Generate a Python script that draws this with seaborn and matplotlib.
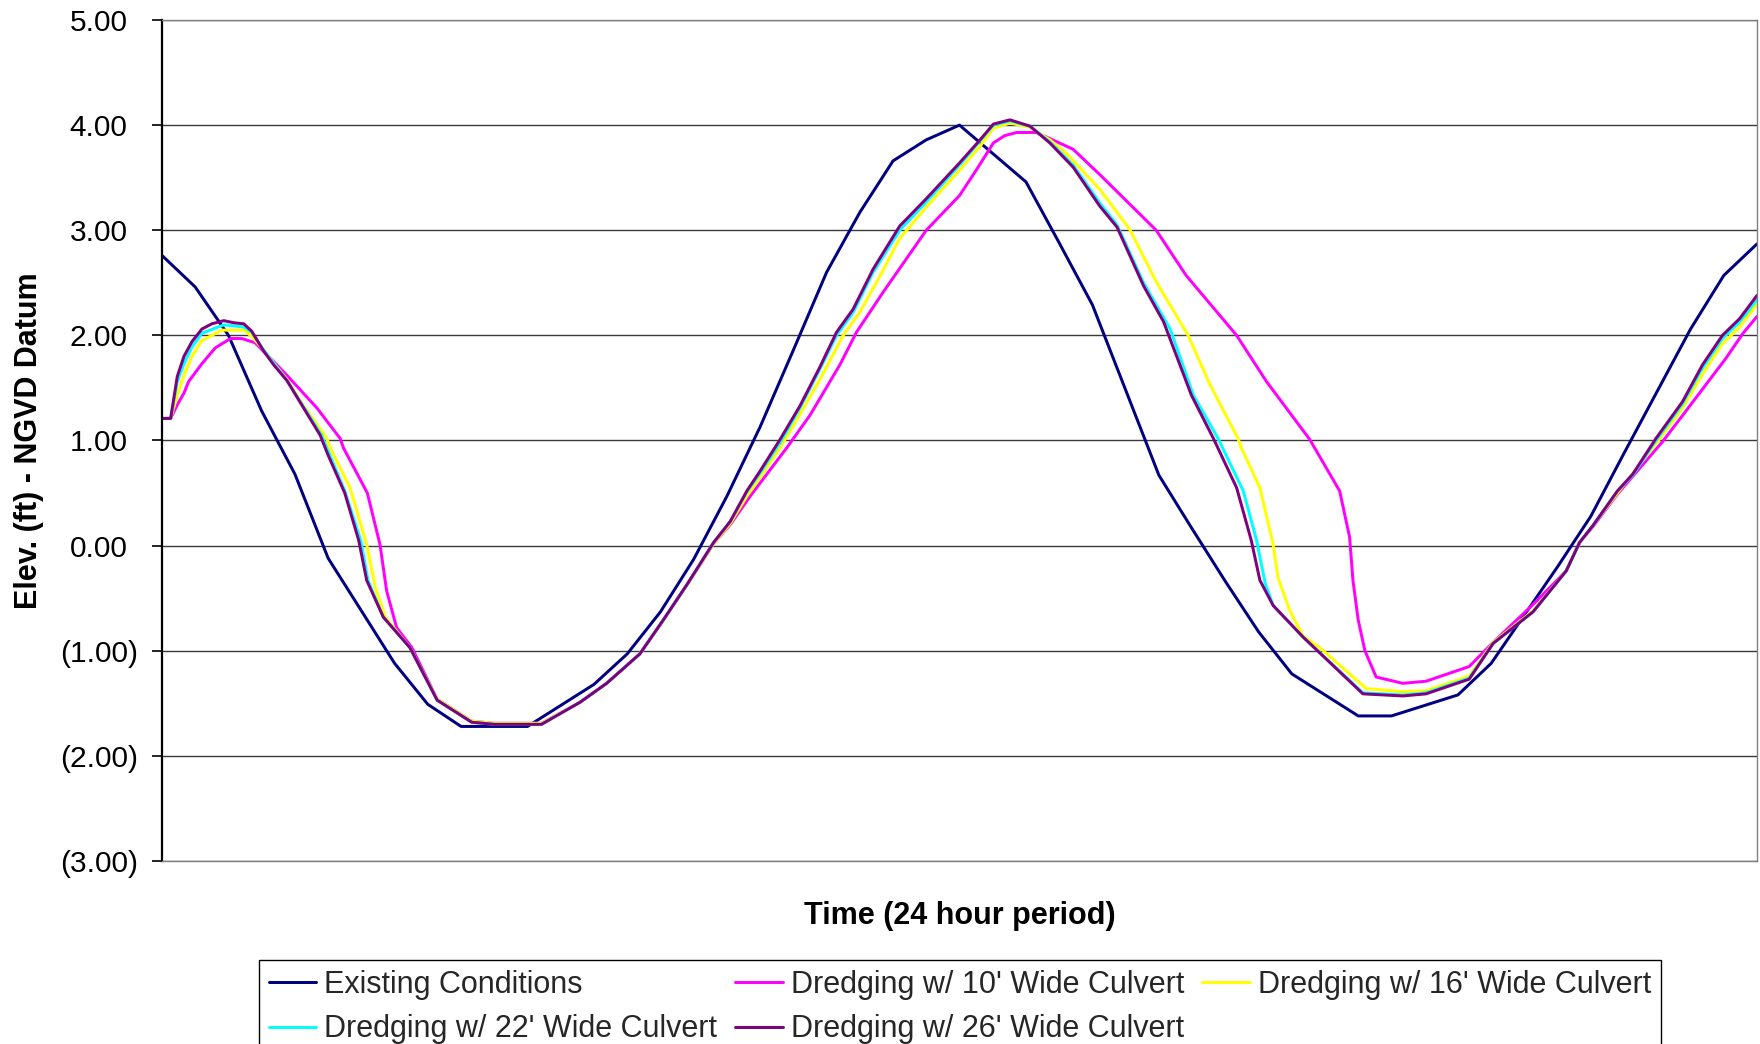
import matplotlib
matplotlib.use("Agg")
import matplotlib.pyplot as plt
import matplotlib.transforms as mtransforms
from matplotlib.lines import Line2D
from matplotlib.ticker import FuncFormatter
import pandas as pd
import seaborn as sns

series_names = [
    "Existing Conditions",
    "Dredging w/ 10' Wide Culvert",
    "Dredging w/ 16' Wide Culvert",
    "Dredging w/ 22' Wide Culvert",
    "Dredging w/ 26' Wide Culvert",
]
series_colors = ["#000080", "#FF00FF", "#FFFF00", "#00FFFF", "#800080"]
y_ticks = [-3, -2, -1, 0, 1, 2, 3, 4, 5]

# existing conditions : one reading every half hour
t_existing = [0, 0.5, 1, 1.5, 2, 2.5, 3, 3.5, 4, 4.5, 5, 5.5, 6, 6.5, 7, 7.5, 8, 8.5,
              9, 9.5, 10, 10.5, 11, 11.5, 12, 12.5, 13, 13.5, 14, 14.5, 15, 15.5, 16,
              16.5, 17, 17.5, 18, 18.5, 19, 19.5, 20, 20.5, 21, 21.5, 22, 22.5, 23,
              23.5, 24]
v_existing = [2.76, 2.46, 2.00, 1.28, 0.68, -0.12, -0.62, -1.12, -1.51, -1.72, -1.72,
              -1.72, -1.52, -1.32, -1.03, -0.63, -0.13, 0.47, 1.13, 1.86, 2.60, 3.17,
              3.66, 3.86, 4.00, 3.73, 3.46, 2.88, 2.29, 1.48, 0.67, 0.16, -0.34, -0.82,
              -1.22, -1.42, -1.62, -1.62, -1.52, -1.42, -1.12, -0.66, -0.20, 0.28, 0.88,
              1.47, 2.06, 2.57, 2.87]

# dredging w/ 10' culvert
t_10 = [0, 0.13, 0.23, 0.33, 0.4, 0.6, 0.8, 1.03, 1.2, 1.4, 1.65, 1.88, 2.33, 2.68,
        2.73, 3.09, 3.28, 3.38, 3.53, 3.76, 4.14, 4.66, 5.0, 5.71, 6.29, 6.69, 7.19,
        7.54, 7.9, 8.12, 8.3, 8.55, 8.85, 9.4, 9.75, 10.2, 10.45, 10.85, 11.5, 12.0,
        12.26, 12.51, 12.68, 12.86, 13.16, 13.71, 14.11, 14.96, 15.41, 16.17, 16.62,
        17.27, 17.72, 17.87, 17.92, 18.0, 18.1, 18.27, 18.67, 19.02, 19.67, 20.03,
        20.63, 21.13, 21.33, 21.53, 21.9, 22.58, 22.93, 23.23, 23.53, 23.79, 24.0]
v_10 = [1.21, 1.21, 1.34, 1.45, 1.56, 1.73, 1.88, 1.97, 1.97, 1.93, 1.77, 1.62, 1.31,
        1.02, 0.93, 0.50, 0.01, -0.43, -0.78, -0.97, -1.46, -1.67, -1.69, -1.69, -1.49,
        -1.31, -1.03, -0.71, -0.37, -0.16, 0.02, 0.20, 0.47, 0.93, 1.24, 1.72, 2.03,
        2.41, 3.00, 3.33, 3.58, 3.83, 3.90, 3.93, 3.93, 3.77, 3.53, 3.00, 2.57, 2.00,
        1.56, 1.01, 0.52, 0.08, -0.33, -0.71, -1.00, -1.25, -1.31, -1.29, -1.15, -0.92,
        -0.56, -0.24, 0.03, 0.18, 0.49, 0.99, 1.28, 1.53, 1.78, 2.02, 2.18]

# dredging w/ 16' culvert
t_16 = [0, 0.13, 0.23, 0.33, 0.45, 0.6, 0.9, 1.23, 1.35, 1.53, 1.88, 2.13, 2.48, 2.53,
        2.83, 3.08, 3.21, 3.36, 3.73, 4.14, 4.66, 5.0, 5.71, 6.29, 6.69, 7.19, 7.54,
        7.9, 8.12, 8.3, 8.55, 8.8, 9.0, 9.3, 9.6, 9.9, 10.25, 10.5, 10.8, 11.1, 11.5,
        12.0, 12.31, 12.51, 12.76, 13.06, 13.36, 13.61, 14.11, 14.56, 14.96, 15.44,
        15.77, 16.19, 16.24, 16.52, 16.72, 16.79, 16.97, 17.17, 17.42, 18.12, 18.67,
        19.02, 19.67, 20.03, 20.63, 21.13, 21.33, 21.53, 21.9, 22.48, 22.88, 23.18,
        23.48, 23.74, 24.0]
v_16 = [1.21, 1.21, 1.43, 1.62, 1.80, 1.95, 2.05, 2.05, 1.99, 1.86, 1.58, 1.33, 1.02,
        0.93, 0.55, 0.01, -0.40, -0.68, -0.97, -1.46, -1.67, -1.69, -1.69, -1.49, -1.31,
        -1.03, -0.71, -0.37, -0.16, 0.02, 0.21, 0.47, 0.65, 0.93, 1.25, 1.58, 2.00,
        2.22, 2.56, 2.92, 3.22, 3.57, 3.80, 3.97, 4.02, 3.98, 3.86, 3.73, 3.39, 3.01,
        2.51, 2.00, 1.53, 1.02, 0.93, 0.55, 0.01, -0.30, -0.62, -0.86, -0.97, -1.36,
        -1.39, -1.38, -1.24, -0.92, -0.62, -0.24, 0.03, 0.19, 0.50, 0.97, 1.31, 1.63,
        1.92, 2.08, 2.30]

# dredging w/ 22' culvert
t_22 = [0, 0.13, 0.23, 0.33, 0.45, 0.6, 0.93, 1.23, 1.35, 1.53, 1.88, 2.13, 2.4, 2.5,
        2.75, 2.99, 3.1, 3.33, 3.73, 4.14, 4.66, 5.0, 5.71, 6.29, 6.69, 7.19, 7.54, 7.9,
        8.12, 8.3, 8.55, 8.8, 9.0, 9.3, 9.6, 9.9, 10.15, 10.4, 10.7, 11.1, 11.5, 12.0,
        12.31, 12.51, 12.76, 13.06, 13.36, 13.71, 14.11, 14.37, 14.77, 15.17, 15.52,
        15.89, 16.27, 16.47, 16.6, 16.72, 17.17, 18.07, 18.67, 19.02, 19.67, 20.03,
        20.63, 21.13, 21.33, 21.53, 21.9, 22.13, 22.48, 22.88, 23.18, 23.48, 23.74, 24.0]
v_22 = [1.21, 1.21, 1.56, 1.73, 1.89, 2.02, 2.10, 2.08, 2.03, 1.86, 1.57, 1.32, 1.05,
        0.90, 0.52, 0.05, -0.33, -0.68, -0.97, -1.47, -1.68, -1.70, -1.70, -1.49, -1.31,
        -1.03, -0.71, -0.37, -0.15, 0.03, 0.23, 0.51, 0.69, 0.98, 1.31, 1.68, 2.00,
        2.22, 2.60, 3.00, 3.27, 3.62, 3.85, 4.00, 4.04, 3.99, 3.84, 3.62, 3.26, 3.05,
        2.50, 2.06, 1.43, 1.02, 0.52, 0.05, -0.36, -0.57, -0.87, -1.40, -1.42, -1.40,
        -1.26, -0.93, -0.63, -0.24, 0.03, 0.19, 0.52, 0.67, 1.00, 1.35, 1.69, 1.97,
        2.13, 2.34]

# dredging w/ 26' culvert
t_26 = [0, 0.13, 0.23, 0.33, 0.45, 0.6, 0.75, 0.93, 1.08, 1.23, 1.35, 1.53, 1.68, 1.88,
        2.13, 2.38, 2.5, 2.75, 2.96, 3.08, 3.33, 3.73, 4.14, 4.66, 5.0, 5.71, 6.29, 6.69,
        7.19, 7.54, 7.9, 8.12, 8.3, 8.55, 8.8, 9.0, 9.3, 9.6, 9.9, 10.15, 10.4, 10.7,
        11.1, 11.5, 12.0, 12.31, 12.51, 12.76, 13.06, 13.36, 13.71, 14.11, 14.37, 14.77,
        15.07, 15.49, 15.82, 16.17, 16.39, 16.52, 16.72, 17.17, 18.07, 18.67, 19.02,
        19.67, 20.03, 20.63, 21.13, 21.33, 21.53, 21.9, 22.13, 22.48, 22.88, 23.18,
        23.48, 23.74, 24.0]
v_26 = [1.21, 1.21, 1.61, 1.80, 1.94, 2.06, 2.11, 2.14, 2.12, 2.11, 2.04, 1.85, 1.72,
        1.57, 1.31, 1.05, 0.86, 0.50, 0.05, -0.33, -0.68, -0.97, -1.47, -1.68, -1.70,
        -1.70, -1.49, -1.31, -1.03, -0.71, -0.37, -0.15, 0.03, 0.23, 0.52, 0.71, 1.01,
        1.33, 1.70, 2.03, 2.25, 2.63, 3.04, 3.30, 3.64, 3.86, 4.01, 4.05, 3.99, 3.83,
        3.60, 3.23, 3.03, 2.47, 2.13, 1.43, 1.02, 0.55, 0.05, -0.33, -0.57, -0.87, -1.41,
        -1.43, -1.41, -1.27, -0.93, -0.63, -0.24, 0.03, 0.19, 0.52, 0.68, 1.02, 1.37,
        1.72, 2.00, 2.16, 2.38]

all_t = [t_existing, t_10, t_16, t_22, t_26]
all_v = [v_existing, v_10, v_16, v_22, v_26]
frames = []
for name, t, v in zip(series_names, all_t, all_v):
    frames.append(pd.DataFrame({"hour": t, "elev": v, "series": name}))
df = pd.concat(frames, ignore_index=True)

sns.set_theme(style="white")
plt.rcParams["font.family"] = ["Liberation Sans", "DejaVu Sans"]

fig = plt.figure(figsize=(17.6, 10.44), dpi=100)
ax = fig.add_axes([0.09205, 0.17529, 0.90625, 0.80556])

sns.lineplot(data=df, x="hour", y="elev", hue="series", hue_order=series_names,
             palette=series_colors, estimator=None, sort=False, linewidth=2.15,
             legend=False, ax=ax, solid_joinstyle="round")

ax.set_xlim(0, 24)
ax.set_ylim(-3, 5)
ax.set_xticks([])
ax.set_yticks(y_ticks)
ax.yaxis.set_major_formatter(FuncFormatter(
    lambda v, p: f"({abs(v):.2f})" if v < 0 else f"{v:.2f}"))
ax.tick_params(axis="y", direction="out", length=7, width=1.2, color="black",
               pad=10.5, labelsize=21.5, labelcolor="black", left=True)

ax.set_axisbelow(True)
ax.yaxis.grid(True, color="#3a3a3a", linewidth=1.0)
ax.xaxis.grid(False)
for side in ["top", "right", "bottom"]:
    ax.spines[side].set_color("#808080")
    ax.spines[side].set_linewidth(1.0)
ax.spines["left"].set_color("black")
ax.spines["left"].set_linewidth(1.6)

# excel keeps a ")"-wide gap after positive numbers
fig.canvas.draw()
shift = mtransforms.ScaledTranslation(-10 / 100, 0, fig.dpi_scale_trans)
for lab, v in zip(ax.get_yticklabels(), y_ticks):
    if v >= 0:
        lab.set_transform(lab.get_transform() + shift)

ax.set_xlabel("Time (24 hour period)", fontsize=22, fontweight="bold",
              color="black", labelpad=29)
ax.set_ylabel("Elev. (ft) - NGVD Datum", fontsize=22, fontweight="bold",
              color="black")
ax.yaxis.set_label_coords(-0.0738, 0.5)

handles = [Line2D([], [], color=c, lw=2.15) for c in series_colors]
# ncol=3 fills by column, so reorder to read row-wise
order = [0, 3, 1, 4, 2]
leg = ax.legend([handles[i] for i in order], [series_names[i] for i in order],
                loc="upper left", bbox_to_anchor=(259 / 1760, 1 - 960 / 1044),
                bbox_transform=fig.transFigure, ncol=3, fontsize=22,
                handlelength=1.55, handletextpad=0.26, columnspacing=0.6,
                labelspacing=0.48, borderpad=0.32, borderaxespad=0,
                frameon=True, fancybox=False, framealpha=1, edgecolor="black")
leg.get_frame().set_linewidth(1.0)

fig.savefig("out.png", dpi=100)
